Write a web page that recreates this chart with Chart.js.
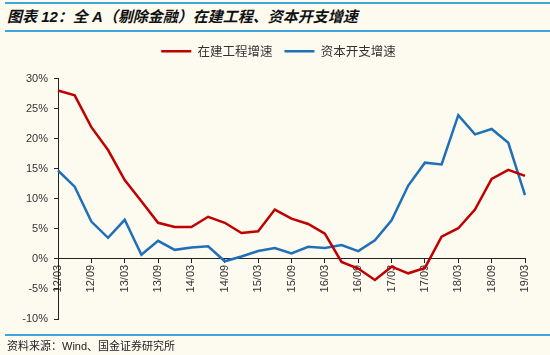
<!DOCTYPE html>
<html>
<head>
<meta charset="utf-8">
<script src="https://cdn.jsdelivr.net/npm/chart.js@4.4.1/dist/chart.umd.min.js"></script>
<style>
  html, body { margin:0; padding:0; background:#FDFAF0; }
  #wrap { position:relative; width:550px; height:355px; overflow:hidden; background:#FDFAF0; }
  #c { position:absolute; left:0; top:0; }
  .rule { position:absolute; left:5px; width:545px; height:2px; background:#3EA6DA; }
  #title { position:absolute; left:7px; top:7px; font:italic bold 15px "Liberation Sans","Noto Sans CJK SC",sans-serif; color:#111; white-space:nowrap; line-height:20px; }
  #source { position:absolute; left:7px; top:338px; font:11px "Liberation Sans","Noto Sans CJK SC",sans-serif; color:#222; white-space:nowrap; line-height:16px; }
</style>
</head>
<body>
<div id="wrap">
  <div class="rule" style="top:2px"></div>
  <div id="title">图表 12：全 A（剔除金融）在建工程、资本开支增速</div>
  <div class="rule" style="top:30px"></div>
  <canvas id="c" width="550" height="355"></canvas>
  <div class="rule" style="top:334px"></div>
  <div id="source">资料来源：Wind、国金证券研究所</div>
</div>
<script>
const categories = ['12/03','12/06','12/09','12/12','13/03','13/06','13/09','13/12',
  '14/03','14/06','14/09','14/12','15/03','15/06','15/09','15/12',
  '16/03','16/06','16/09','16/12','17/03','17/06','17/09','17/12',
  '18/03','18/06','18/09','18/12','19/03'];
const seriesNames = ['在建工程增速', '资本开支增速'];
const cipGrowth = [28.0, 27.2, 21.9, 18.1, 13.1, 9.6, 6.0, 5.3, 5.3, 7.0, 6.0, 4.3, 4.6, 8.2,
  6.7, 5.8, 4.2, -0.5, -1.6, -3.5, -1.3, -2.4, -1.5, 3.7, 5.1, 8.2, 13.3, 14.8, 13.8];
const capexGrowth = [14.7, 12.0, 6.2, 3.5, 6.5, 0.7, 3.0, 1.5, 1.9, 2.1, -0.4, 0.4, 1.3, 1.8,
  0.9, 2.0, 1.8, 2.3, 1.3, 3.1, 6.4, 12.2, 16.0, 15.7, 23.9, 20.7, 21.6, 19.3, 10.6];
const yTicks = { min: -10, max: 30, step: 5 };

const RED = '#C00000';
const BLUE = '#1F70B8';
const AXIS = '#222222';
const FONT = '"Liberation Sans", Arial, sans-serif';

const legendTweak = {
  id: 'legendTweak',
  beforeLayout(chart) {
    const lg = chart.legend;
    if (lg && !lg._tweaked) {
      const fit = lg.fit;
      lg.fit = function() { fit.call(this); this.height += 11; };
      lg._tweaked = true;
    }
  },
  afterLayout(chart) {
    const lg = chart.legend;
    if (lg) { lg.left += 16; lg.right += 16; }
  }
};

new Chart(document.getElementById('c'), {
  type: 'line',
  data: {
    labels: categories,
    datasets: [
      { label: seriesNames[0], data: cipGrowth, borderColor: RED, backgroundColor: RED,
        borderWidth: 2.5, pointRadius: 0, tension: 0 },
      { label: seriesNames[1], data: capexGrowth, borderColor: BLUE, backgroundColor: BLUE,
        borderWidth: 2.5, pointRadius: 0, tension: 0 }
    ]
  },
  plugins: [legendTweak],
  options: {
    responsive: false,
    animation: false,
    devicePixelRatio: 1,
    layout: { padding: { left: 0, right: 25, top: 33, bottom: 36 } },
    plugins: {
      tooltip: { enabled: false },
      legend: {
        display: true,
        position: 'top',
        labels: {
          usePointStyle: true,
          pointStyle: 'line',
          pointStyleWidth: 30,
          font: { family: '"Noto Sans CJK SC", sans-serif', size: 12.5 },
          color: '#333',
          padding: 12
        }
      }
    },
    scales: {
      x: {
        type: 'category',
        position: { y: 0 },
        offset: false,
        afterFit: s => { s.height = 0; },
        grid: { display: true, drawOnChartArea: false, drawTicks: true, tickLength: 4, color: AXIS, lineWidth: 1 },
        border: { display: true, color: AXIS, width: 1 },
        ticks: {
          autoSkip: false,
          maxRotation: 90,
          minRotation: 90,
          padding: 2,
          color: '#333',
          font: { family: FONT, size: 11 },
          callback: function(v, i) { return i % 2 === 0 ? this.getLabelForValue(v) : null; }
        }
      },
      y: {
        min: yTicks.min,
        max: yTicks.max,
        afterFit: s => { s.width = 58; },
        grid: { display: true, drawOnChartArea: false, drawTicks: true, tickLength: 4, color: AXIS, lineWidth: 1 },
        border: { display: true, color: AXIS, width: 1 },
        ticks: {
          stepSize: yTicks.step,
          padding: 6,
          color: '#333',
          font: { family: FONT, size: 11 },
          callback: v => v + '%'
        }
      }
    }
  }
});
</script>
</body>
</html>
